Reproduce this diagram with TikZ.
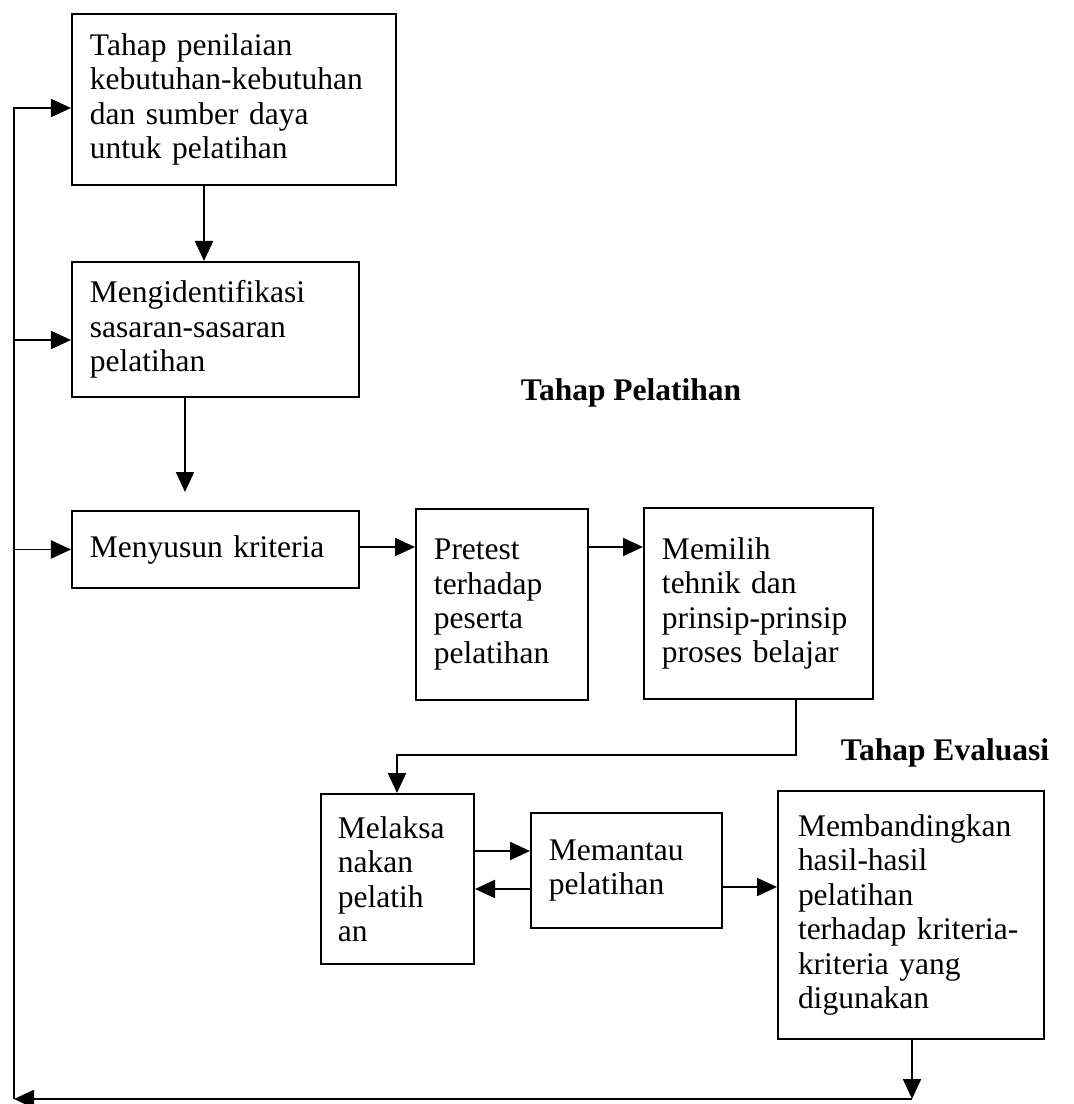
\documentclass[tikz,border=0pt]{standalone}
\usepackage{fontspec}
\setmainfont{Liberation Serif}
\usepackage{tikz}
\usetikzlibrary{arrows.meta,positioning,calc}

\newcommand{\stagefont}{\fontsize{22.4}{24.5}\selectfont}
\tikzset{
    stagebox/.style={draw, line width=1.4pt, anchor=north west, align=left,
        inner xsep=0.45cm, inner ysep=0pt, font=\stagefont},
    flow/.style={line width=1.4pt, -{Triangle[length=0.5cm,width=0.45cm]}},
    phase/.style={font=\stagefont\bfseries}
}

\begin{document}
\begin{tikzpicture}[x=0.025cm, y=-0.025cm]
    \path[use as bounding box, fill=white] (0,0) rectangle (1073,1104);

    % Planning stage (left column)
    \node[stagebox, text width=7.2cm, minimum height=4.275cm] (tahap) at (71,13)
        {Tahap penilaian\\kebutuhan-kebutuhan\\dan sumber daya\\untuk pelatihan};
    \node[stagebox, text width=6.275cm, minimum height=3.375cm] (identifikasi) at (71,261)
        {Mengidentifikasi\\sasaran-sasaran\\pelatihan};
    \node[stagebox, text width=6.275cm, minimum height=1.925cm] (susun) at (71,510)
        {Menyusun kriteria};

    % Training stage
    \node[phase] (pelatihan) at (631,393) {Tahap Pelatihan};
    \node[stagebox, text width=3.4cm, minimum height=4.775cm] (pretest) at (415,508)
        {Pretest\\terhadap\\peserta\\pelatihan};
    \node[stagebox, text width=4.825cm, minimum height=4.775cm] (pilih) at (643,507)
        {Memilih\\tehnik dan\\prinsip-prinsip\\proses belajar};
    \node[stagebox, inner xsep=0.425cm, text width=2.975cm, minimum height=4.25cm] (laksana) at (320,793)
        {Melaksa\\nakan\\pelatih\\an};
    \node[stagebox, text width=3.875cm, minimum height=2.875cm] (pantau) at (530,812)
        {Memantau\\pelatihan};

    % Evaluation stage
    \node[phase] (evaluasi) at (945,753) {Tahap Evaluasi};
    \node[stagebox, inner xsep=0.5cm, text width=5.65cm, minimum height=6.2cm] (banding) at (777,790)
        {Membandingkan\\hasil-hasil\\pelatihan\\terhadap kriteria-\\kriteria yang\\digunakan};

    % Forward arrows
    \coordinate (susungap) at (185,492);
    \coordinate (turn) at (796,755);
    \draw[flow] (tahap.south -| 204,0) -- (identifikasi.north -| 204,0);
    \draw[flow] (identifikasi.south -| susungap) -- (susungap);
    \draw[flow] (susun.east |- 0,547) -- (pretest.west |- 0,547);
    \draw[flow] (pretest.east |- 0,547) -- (pilih.west |- 0,547);
    \draw[flow] (pilih.south -| turn) -- (turn) -| (laksana.north -| 397,0);
    \draw[flow] (laksana.east |- 0,851) -- (pantau.west |- 0,851);
    \draw[flow] (pantau.west |- 0,889) -- (laksana.east |- 0,889);
    \draw[flow] (pantau.east |- 0,887) -- (banding.west |- 0,887);

    % Feedback loop
    \coordinate (drop) at (912,1099);
    \coordinate (corner) at (14,1099);
    \coordinate (top) at (14,108);
    \draw[flow] (banding.south -| drop) -- (drop);
    \draw[flow] (drop) -- (corner);
    \draw[flow] (corner) -- (top) -- (tahap.west |- top);
    \draw[flow] (corner |- 0,340) -- (identifikasi.west |- 0,340);
    \draw[flow] (corner |- susun.west) -- (susun.west);
\end{tikzpicture}
\end{document}
